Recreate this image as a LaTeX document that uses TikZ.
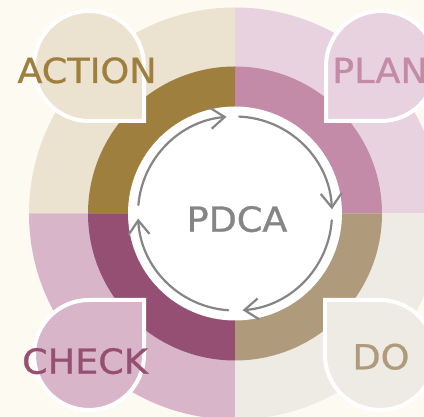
\documentclass[tikz,border=0pt]{standalone}
\usepackage{fontspec}
\setmainfont{DejaVu Sans}
\newfontfamily\lblfont[FakeStretch=1.06, FakeBold=0.8]{DejaVu Sans}
\usetikzlibrary{arrows.meta}
\definecolor{bgc}{HTML}{FDFAF1}
\definecolor{qbeige}{HTML}{EBE3D0}
\definecolor{qlpink}{HTML}{E8D2DF}
\definecolor{qgrey}{HTML}{EEEBE4}
\definecolor{qpink}{HTML}{D9B5CA}
\definecolor{rgold}{HTML}{9E7F3D}
\definecolor{rmauve}{HTML}{C48BA8}
\definecolor{rtan}{HTML}{AF9B7B}
\definecolor{rplum}{HTML}{954F72}
\definecolor{arrowgray}{HTML}{858585}
\begin{document}
\begin{tikzpicture}[x=1pt,y=1pt,
  lbl/.style={font=\lblfont\fontsize{34.5}{40}\selectfont, anchor=base, inner sep=0pt},
  cyc/.style={draw=arrowgray, line width=2.2pt, line cap=round,
    -{Straight Barb[length=14pt,width=21pt,line width=2.2pt]}},
  petal/.style={draw=white, line width=4pt, miter limit=10}]
\useasboundingbox (0,0) rectangle (424,417);
\fill[bgc] (0,0) rectangle (424,417);
\clip (0,0) rectangle (424,417);
\coordinate (c) at (235,203.5);
% outer quadrants
\fill[qlpink] (c) -- ++(0:206) arc[start angle=0,end angle=90,radius=206] -- cycle;
\fill[qbeige] (c) -- ++(90:206) arc[start angle=90,end angle=180,radius=206] -- cycle;
\fill[qpink] (c) -- ++(180:206) arc[start angle=180,end angle=270,radius=206] -- cycle;
\fill[qgrey] (c) -- ++(270:206) arc[start angle=270,end angle=360,radius=206] -- cycle;
% inner ring quadrants
\fill[rmauve] (c) -- ++(0:147) arc[start angle=0,end angle=90,radius=147] -- cycle;
\fill[rgold] (c) -- ++(90:147) arc[start angle=90,end angle=180,radius=147] -- cycle;
\fill[rplum] (c) -- ++(180:147) arc[start angle=180,end angle=270,radius=147] -- cycle;
\fill[rtan] (c) -- ++(270:147) arc[start angle=270,end angle=360,radius=147] -- cycle;
% white centre
\fill[white] (c) circle[radius=107];
% cycle arrows
\draw[cyc] ([shift={(175:97)}]c) arc[start angle=175,end angle=95,radius=97];
\draw[cyc] ([shift={(87.5:97)}]c) arc[start angle=87.5,end angle=2.5,radius=97];
\draw[cyc] ([shift={(-4:97)}]c) arc[start angle=-4,end angle=-85.5,radius=97];
\draw[cyc] ([shift={(-94:97)}]c) arc[start angle=-94,end angle=-177,radius=97];
% petals
\filldraw[petal, fill=qbeige] (144,351) arc[start angle=0,end angle=270,radius=55] -- (144,296) -- cycle;
\filldraw[petal, fill=qlpink] (381,296) arc[start angle=-90,end angle=180,radius=55] -- (326,296) -- cycle;
\filldraw[petal, fill=qpink] (89,117) arc[start angle=90,end angle=360,radius=55] -- (144,117) -- cycle;
\filldraw[petal, fill=qgrey] (325,62) arc[start angle=180,end angle=450,radius=55] -- (325,117) -- cycle;
% labels
\node[lbl, text=rgold] (act) at (87,334) {ACTION};
\node[lbl, text=rmauve] (plan) at (380,334) {PLAN};
\node[lbl, text=rplum] (chk) at (85,43.3) {CHECK};
\node[lbl, text=rtan] (do) at (381,47.7) {DO};
\node[lbl, text=arrowgray] (pdca) at (237,185.3) {PDCA};
\end{tikzpicture}
\end{document}
